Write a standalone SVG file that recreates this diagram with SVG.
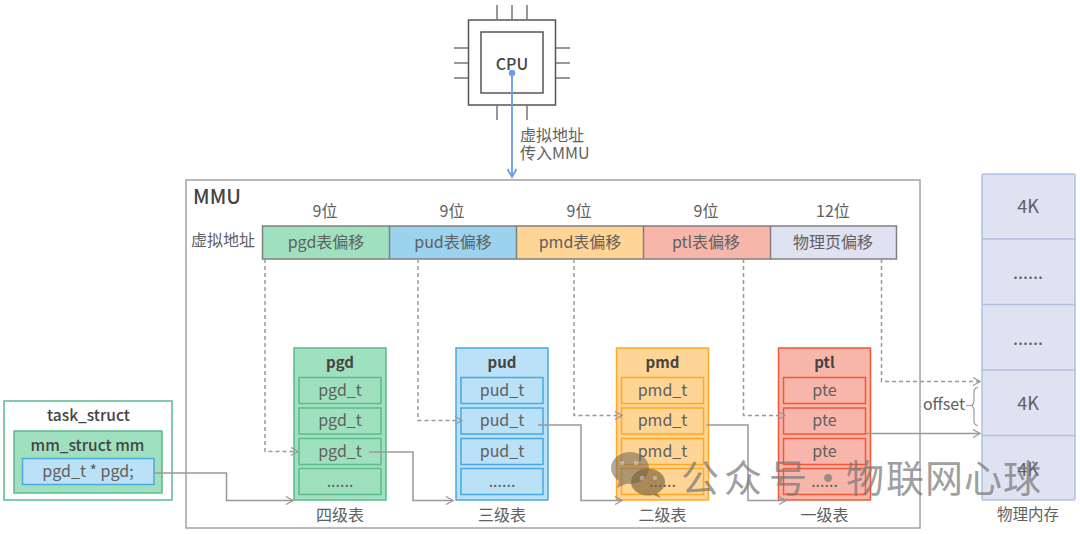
<svg xmlns="http://www.w3.org/2000/svg" width="1080" height="534" viewBox="0 0 1080 534">
<style>
text{font-family:"Noto Sans CJK SC","Noto Sans",sans-serif;fill:#606060;font-size:16px;text-anchor:middle}
.b{font-weight:700;fill:#444;font-size:15px}
.m{font-weight:500;fill:#444;font-size:15.500px}
.k{font-size:18px}
.pin{stroke:#777;stroke-width:1.500;fill:none}
.line{stroke:#999;stroke-width:1.500;fill:none;marker-end:url(#open)}
.dash{stroke:#999;stroke-width:1.500;fill:none;stroke-dasharray:4 3;marker-end:url(#open)}
.seg{stroke:#808080;stroke-width:1.500}
.green{fill:#9fe0bf;stroke:#5dbb8d;stroke-width:1.500}
.blue{fill:#bbe1f6;stroke:#4aa8e2;stroke-width:1.500}
.orange{fill:#ffd595;stroke:#ffa826;stroke-width:1.500}
.red{fill:#f8b6aa;stroke:#f2573a;stroke-width:1.500}
.mem{fill:#dee2f1;stroke:#b3c0e2;stroke-width:1.500}
</style>
<defs>
<marker id="open" markerWidth="10" markerHeight="10" refX="8" refY="4.500" orient="auto" markerUnits="userSpaceOnUse"><path d="M1 0.500L8 4.500L1 8.500" fill="none" stroke="#999" stroke-width="1.300"/></marker>
<marker id="blueArrow" markerWidth="12" markerHeight="12" refX="9" refY="5" orient="auto" markerUnits="userSpaceOnUse"><path d="M1 0.500L9 5L1 9.500" fill="none" stroke="#6a9bea" stroke-width="1.800"/></marker>
</defs>

<g id="mmu"><rect x="186" y="180" width="734" height="348" fill="#fff" stroke="#a3a3a3" stroke-width="1.500"/><text x="217" y="204" style="font-size:20px;font-weight:500;fill:#444">MMU</text></g>

<g id="cpu">
<rect x="468.500" y="20" width="87" height="85" fill="#fff" stroke="#555" stroke-width="1.500"/>
<rect x="481" y="32" width="62" height="61" fill="#fff" stroke="#555" stroke-width="1.500"/>
<path class="pin" d="M497 5V20M512 5V20M527 5V20M497 105V120M527 105V120M454 48H468M454 63H468M454 78H468M556 48H570M556 63H570M556 78H570"/>
<text x="512" y="70" style="font-size:16px;font-weight:500;fill:#444">CPU</text>
</g>

<g id="address">
<text x="223" y="246">虚拟地址</text>
<text x="325" y="217">9位</text><text x="452" y="217">9位</text><text x="579" y="217">9位</text><text x="706" y="217">9位</text><text x="833" y="217">12位</text>
<rect x="262.500" y="226" width="127" height="33" fill="#9fe0bf"/>
<rect x="389.500" y="226" width="127" height="33" fill="#9bd2ee"/>
<rect x="516.500" y="226" width="127" height="33" fill="#ffd595"/>
<rect x="643.500" y="226" width="127" height="33" fill="#f8b6aa"/>
<rect x="770.500" y="226" width="126" height="33" fill="#dee2f1"/>
<rect x="262.500" y="226" width="634" height="33" fill="none" stroke="#808080" stroke-width="1.500"/>
<path class="seg" d="M389.500 226V259M516.500 226V259M643.500 226V259M770.500 226V259"/>
<text x="326" y="248">pgd表偏移</text><text x="453" y="248">pud表偏移</text><text x="580" y="248">pmd表偏移</text><text x="706" y="248">ptl表偏移</text><text x="833" y="248">物理页偏移</text>
</g>

<g id="task_struct">
<rect x="4" y="401" width="168" height="99" fill="#fff" stroke="#3fb27f" stroke-width="1.300"/>
<text x="88.500" y="421" class="m">task_struct</text>
<rect x="14" y="431" width="148" height="62" class="green"/>
<text x="87.500" y="451" class="m">mm_struct mm</text>
<rect x="22.500" y="458.500" width="131.500" height="26" class="blue"/>
<text x="88" y="477">pgd_t * pgd;</text>
</g>

<g id="pgd">
<rect x="294" y="348" width="92" height="152" class="green"/>
<text x="340" y="368" class="b">pgd</text>
<rect x="299" y="377.500" width="82" height="26" class="green"/><text x="340" y="396">pgd_t</text>
<rect x="299" y="408" width="82" height="26" class="green"/><text x="340" y="426">pgd_t</text>
<rect x="299" y="438.500" width="82" height="26" class="green"/><text x="340" y="457">pgd_t</text>
<rect x="299" y="468.500" width="82" height="26" class="green"/><text x="340" y="487">......</text>
<text x="340" y="521">四级表</text>
</g>
<g id="pud">
<rect x="456" y="348" width="92" height="152" class="blue"/>
<text x="502" y="368" class="b">pud</text>
<rect x="461" y="377.500" width="82" height="26" class="blue"/><text x="502" y="396">pud_t</text>
<rect x="461" y="408" width="82" height="26" class="blue"/><text x="502" y="426">pud_t</text>
<rect x="461" y="438.500" width="82" height="26" class="blue"/><text x="502" y="457">pud_t</text>
<rect x="461" y="468.500" width="82" height="26" class="blue"/><text x="502" y="487">......</text>
<text x="502" y="521">三级表</text>
</g>
<g id="pmd">
<rect x="616.500" y="348" width="92" height="152" class="orange"/>
<text x="662.500" y="368" class="b">pmd</text>
<rect x="621.500" y="377.500" width="82" height="26" class="orange"/><text x="662.500" y="396">pmd_t</text>
<rect x="621.500" y="408" width="82" height="26" class="orange"/><text x="662.500" y="426">pmd_t</text>
<rect x="621.500" y="438.500" width="82" height="26" class="orange"/><text x="662.500" y="457">pmd_t</text>
<rect x="621.500" y="468.500" width="82" height="26" class="orange"/><text x="662.500" y="487">......</text>
<text x="662.500" y="521">二级表</text>
</g>
<g id="ptl">
<rect x="778.500" y="348" width="92" height="152" class="red"/>
<text x="824.500" y="368" class="b">ptl</text>
<rect x="783.500" y="377.500" width="82" height="26" class="red"/><text x="824.500" y="396">pte</text>
<rect x="783.500" y="408" width="82" height="26" class="red"/><text x="824.500" y="426">pte</text>
<rect x="783.500" y="438.500" width="82" height="26" class="red"/><text x="824.500" y="457">pte</text>
<rect x="783.500" y="468.500" width="82" height="26" class="red"/><text x="824.500" y="487">......</text>
<text x="824.500" y="521">一级表</text>
</g>

<g id="memory">
<rect x="982" y="174" width="93" height="326" rx="1.500" class="mem"/>
<path d="M982 239H1075M982 304.500H1075M982 370H1075M982 435.500H1075" fill="none" stroke="#b3c0e2" stroke-width="1.500"/>
<text x="1028" y="213" class="k">4K</text>
<text x="1028" y="279" class="k">......</text>
<text x="1028" y="345" class="k">......</text>
<text x="1028" y="410" class="k">4K</text>
<text x="1028" y="476" class="k">4K</text>
<text x="1028" y="520" style="font-size:15.500px">物理内存</text>
</g>

<g id="connectors">
<path d="M512 73V177" fill="none" stroke="#6a9bea" stroke-width="1.800" marker-end="url(#blueArrow)"/>
<circle cx="512" cy="73" r="3.200" fill="#6a9bea"/>
<path class="line" d="M154 473H226.500V500.500H293"/>
<path class="line" d="M369 452H413V500.500H453"/>
<path class="line" d="M538 425H581V500.500H622"/>
<path class="line" d="M706.500 425H748V500.500H786"/>
<path class="line" d="M866 433.500H980"/>
<path class="dash" d="M265 259V451.500H298"/>
<path class="dash" d="M418 259V420.500H462"/>
<path class="dash" d="M574 259V415.500H622"/>
<path class="dash" d="M743.500 259V415.500H785"/>
<path class="dash" d="M881.500 259V381.500H980"/>
<path d="M978 387.500C975 387.500 974 389 974 392V400C974 403 973 405 971 405.500C973 406 974 408 974 411V421C974 424 975 425.500 978 425.500M966 405.500H971" fill="none" stroke="#999" stroke-width="1.200"/>
</g>
<text x="520" y="141" style="text-anchor:start">虚拟地址</text>
<text x="520" y="159" style="text-anchor:start">传入MMU</text>
<text x="944" y="410">offset</text>

<g id="watermark">
<g fill="#6e6459" opacity="0.550">
<ellipse cx="630" cy="468" rx="19" ry="16"/>
<path d="M619 480L617 488L628 483Z"/>
</g>
<g fill="#7a623c" opacity="0.650">
<ellipse cx="648" cy="482" rx="17" ry="13.500"/>
<path d="M656 492L661 498L651 494Z"/>
</g>
<g fill="#fff" opacity="0.350">
<circle cx="622" cy="463" r="2.200"/><circle cx="636" cy="463" r="2.200"/><circle cx="642" cy="478" r="2.200"/><circle cx="655" cy="478" r="2.200"/>
</g>
<text x="700 743 788 828 865 905 944 983 1022" y="492" opacity="0.700" style="font-size:38px;fill:#777">公众号·物联网心球</text>
</g>
</svg>
